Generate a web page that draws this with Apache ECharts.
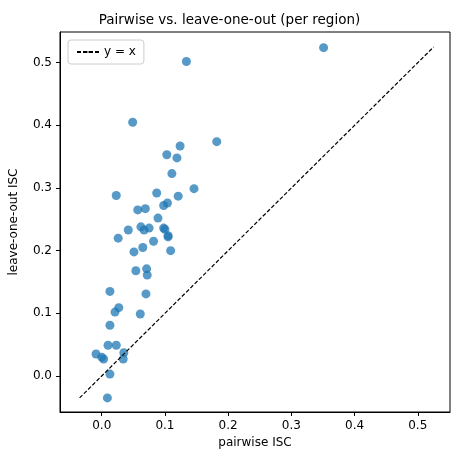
<!DOCTYPE html><html><head><meta charset="utf-8"><script src="https://cdn.jsdelivr.net/npm/echarts@6/dist/echarts.min.js"></script></head><body style="margin:0"><div id="c" style="width:459px;height:469px"></div><script>
const pairwise=[0.049,0.182,0.124,0.103,0.119,0.111,0.146,0.023,0.087,0.121,0.104,0.098,0.057,0.069,0.089,0.042,0.062,0.067,0.075,0.098,0.100,0.026,0.105,0.105,0.082,0.065,0.051,0.109,0.054,0.071,0.072,0.013,0.070,0.027,0.021,0.061,0.013,0.010,0.023,-0.009,0.035,0.000,0.003,0.034,0.013,0.009,0.351,0.134];
const loo=[0.405,0.374,0.367,0.353,0.348,0.323,0.299,0.288,0.292,0.287,0.276,0.272,0.265,0.267,0.252,0.233,0.238,0.233,0.236,0.236,0.234,0.220,0.224,0.222,0.215,0.205,0.198,0.200,0.168,0.171,0.161,0.135,0.131,0.109,0.102,0.099,0.081,0.049,0.049,0.035,0.037,0.030,0.027,0.027,0.003,-0.035,0.524,0.502];
const lineEnds=[-0.035,0.525];
const ticks=[0,0.1,0.2,0.3,0.4,0.5];
const f='DejaVu Sans';
const ax=(name,min,max,gap)=>({type:'value',min,max,name,nameLocation:'middle',nameGap:gap,
 nameTextStyle:{fontFamily:f,fontSize:12,color:'#000'},splitLine:{show:false},
 axisLine:{show:true,onZero:false,lineStyle:{color:'#000'}},
 axisTick:{show:true,length:4,customValues:ticks,lineStyle:{color:'#000'}},
 axisLabel:{fontFamily:f,fontSize:12,color:'#000',customValues:ticks,formatter:v=>v.toFixed(1)}});
const c=echarts.init(document.getElementById('c'));
c.setOption({animation:false,
title:{text:'Pairwise vs. leave-one-out (per region)',left:'center',top:8,textStyle:{fontFamily:f,fontSize:13.5,fontWeight:'normal',color:'#000'}},
grid:{left:59,right:9,top:32,bottom:57,show:true,borderColor:'#000',borderWidth:1},
legend:{left:68,top:40,data:['y = x'],itemWidth:22,itemHeight:2,textStyle:{fontFamily:f,fontSize:12,color:'#000'},
 borderColor:'#ccc',borderWidth:1,borderRadius:3,padding:[6,8],backgroundColor:'#fff'},
xAxis:ax('pairwise ISC',-0.066,0.551,22),
yAxis:ax('leave-one-out ISC',-0.0575,0.549,40),
series:[{type:'scatter',name:'pts',data:pairwise.map((x,i)=>[x,loo[i]]),symbolSize:9,itemStyle:{color:'#1f77b4',opacity:0.75}},
{type:'line',name:'y = x',data:lineEnds.map(v=>[v,v]),symbol:'none',lineStyle:{color:'#000',type:[4,2],width:1.2},itemStyle:{color:'#000'}}]});
</script></body></html>
